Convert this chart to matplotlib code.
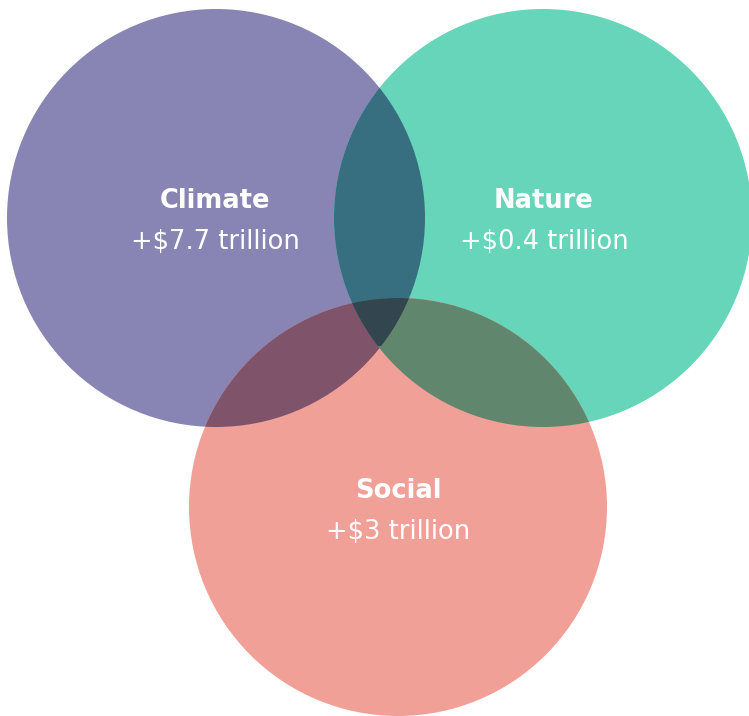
import numpy as np
import matplotlib.pyplot as plt
from matplotlib.patches import Circle, Polygon

# chart data
sets = ['Climate', 'Nature', 'Social']
values = ['+$7.7 trillion', '+$0.4 trillion', '+$3 trillion']

# layout (pixel space)
centers = [(216, 218), (543, 218), (398, 507)]
radius = 209

colors = ['#8884b4', '#66d5b9', '#f0a097']
pair_colors = {(0, 1): '#376f80', (0, 2): '#7f546b', (1, 2): '#60876d'}
triple_color = '#334650'

plt.rcParams['font.family'] = ['DejaVu Sans']

fig = plt.figure(figsize=(7.49, 7.16), dpi=100)
ax = fig.add_axes([0, 0, 1, 1])
ax.set_xlim(0, 749)
ax.set_ylim(716, 0)
ax.set_aspect('equal')
ax.axis('off')

circles = []
for c, col in zip(centers, colors):
    p = Circle(c, radius, facecolor=col, edgecolor='none', zorder=1)
    ax.add_patch(p)
    circles.append(p)

for (i, j), col in pair_colors.items():
    p = Circle(centers[j], radius, facecolor=col, edgecolor='none', zorder=2)
    ax.add_patch(p)
    p.set_clip_path(circles[i])


def lens(c1, c2, r, n=400):
    t = np.linspace(0, 2 * np.pi, n, endpoint=False)
    pts = []
    for a, b in ((c1, c2), (c2, c1)):
        x = a[0] + r * np.cos(t)
        y = a[1] + r * np.sin(t)
        inside = (x - b[0]) ** 2 + (y - b[1]) ** 2 <= r ** 2
        pts.append(np.column_stack([x[inside], y[inside]]))
    pts = np.vstack(pts)
    m = pts.mean(axis=0)
    order = np.argsort(np.arctan2(pts[:, 1] - m[1], pts[:, 0] - m[0]))
    return pts[order]


lens_patch = Polygon(lens(centers[0], centers[1], radius), closed=True,
                     facecolor='none', edgecolor='none')
ax.add_patch(lens_patch)
tri = Circle(centers[2], radius, facecolor=triple_color, edgecolor='none', zorder=3)
ax.add_patch(tri)
tri.set_clip_path(lens_patch)

label_pos = [(215, 208), (544, 208), (398, 498)]
for (x, y), name, val in zip(label_pos, sets, values):
    ax.text(x, y, name, color='white', fontsize=18.5, fontweight='bold',
            ha='center', va='baseline', zorder=5)
    ax.text(x, y + 41, val, color='white', fontsize=18.5,
            ha='center', va='baseline', zorder=5)

fig.savefig('out.png', dpi=100)
